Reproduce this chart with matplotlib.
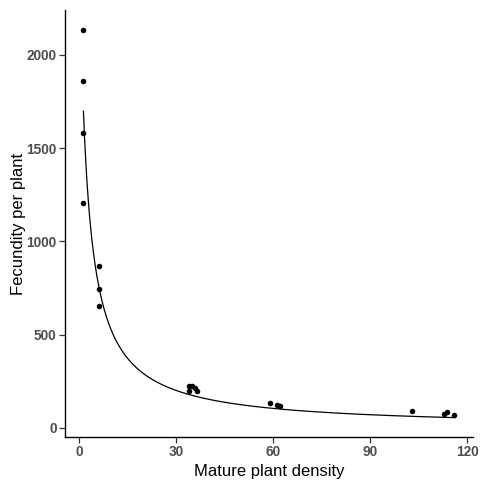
import numpy as np
import matplotlib
matplotlib.use("Agg")
import matplotlib.pyplot as plt

plt.rcParams['font.family'] = ['Liberation Sans', 'DejaVu Sans']

# points
density = [1.3, 1.3, 1.3, 1.3, 6.1, 6.1, 6.1,
           34.0, 35.0, 35.8, 36.4, 34.0,
           59.0, 61.2, 62.0, 103.0, 112.9, 113.9, 116.1]
fecundity = [2135, 1860, 1580, 1205, 870, 742, 653,
             226, 222, 212, 200, 196,
             134, 123, 119, 93, 73, 84, 68]

# hyperbolic fit f = a / (1 + b*d), parameters
a_fit = 2564
b_fit = 0.393
d_line = np.linspace(min(density), max(density), 300)
f_line = a_fit / (1 + b_fit * d_line)

fig = plt.figure(figsize=(4.84, 4.83), dpi=100)
ax = fig.add_axes([0.1343, 0.0952, 0.8427, 0.8838])
ax.plot(d_line, f_line, color='black', lw=0.9)
ax.scatter(density, fecundity, s=16, color='black', zorder=3, linewidths=0)

ax.set_xlim(-4.4, 121.8)
ax.set_ylim(-49, 2239)
ax.set_xticks([0, 30, 60, 90, 120])
ax.set_yticks([0, 500, 1000, 1500, 2000])
for s in ['top', 'right']:
    ax.spines[s].set_visible(False)
for s in ['left', 'bottom']:
    ax.spines[s].set_linewidth(1.0)
    ax.spines[s].set_color('black')
ax.tick_params(length=4, width=0.9, color='#333333', labelcolor='#4D4D4D',
               labelsize=9.8, pad=2)
for lbl in ax.get_xticklabels() + ax.get_yticklabels():
    lbl.set_fontweight('bold')
ax.set_xlabel("Mature plant density", fontsize=12, labelpad=3)
ax.set_ylabel("Fecundity per plant", fontsize=12, labelpad=0)

fig.savefig("out.png", dpi=100)
